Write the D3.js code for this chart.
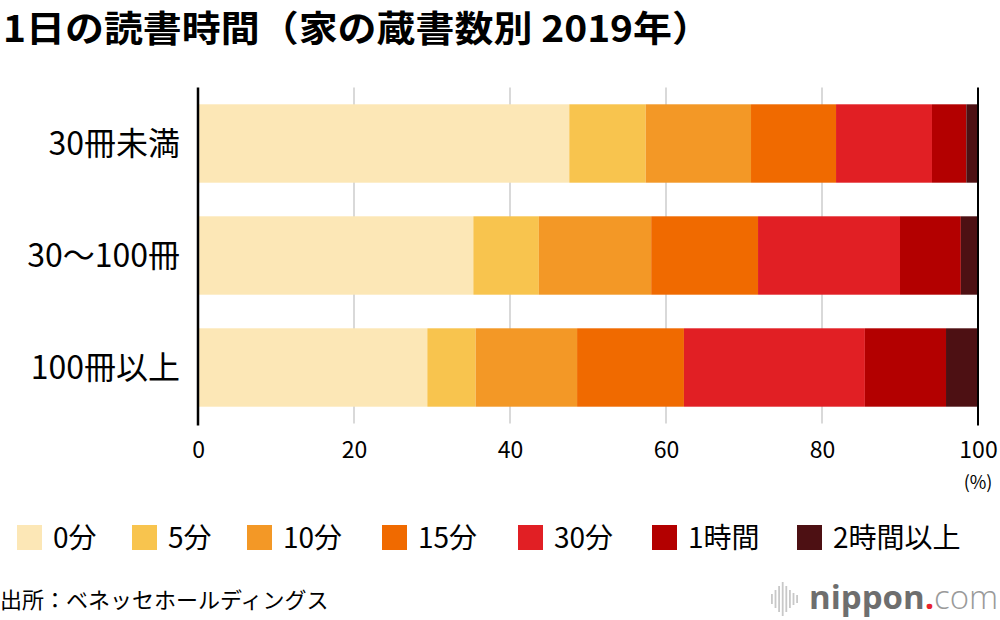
<!DOCTYPE html>
<html lang="ja">
<head>
<meta charset="utf-8">
<title>1日の読書時間（家の蔵書数別 2019年）</title>
<script src="https://d3js.org/d3.v7.min.js"></script>
<style>
  body { margin: 0; background: #fff; }
  svg { display: block; font-family: "Noto Sans CJK JP", "Noto Sans", sans-serif; }
</style>
</head>
<body>
<script>
  // data
  var categories = ["30冊未満", "30～100冊", "100冊以上"];
  var seriesNames = ["0分", "5分", "10分", "15分", "30分", "1時間", "2時間以上"];
  var min0 = [47.6, 35.3, 29.4];
  var min5 = [9.8, 8.4, 6.2];
  var min10 = [13.5, 14.4, 13.0];
  var min15 = [10.9, 13.7, 13.7];
  var min30 = [12.3, 18.2, 23.2];
  var hour1 = [4.4, 7.8, 10.4];
  var hour2plus = [1.5, 2.2, 4.1];
  var xTicks = [0, 20, 40, 60, 80, 100];

  var colors = ["#fce7b6", "#f8c44e", "#f39826", "#f06a00", "#e11f24", "#b30000", "#4d1013"];
  var seriesValues = [min0, min5, min10, min15, min30, hour1, hour2plus];
  // legend item left edges, as laid out in the reference
  var legendX = [17, 132, 247, 382, 518, 652, 797];

  var rows = categories.map(function (c, i) {
    var r = { cat: c };
    seriesNames.forEach(function (s, j) { r[s] = seriesValues[j][i]; });
    return r;
  });

  var width = 1000, height = 620;
  var svg = d3.select("body").append("svg")
    .attr("width", width)
    .attr("height", height);

  var x = d3.scaleLinear().domain([0, 100]).range([198, 978]);
  var y = d3.scaleBand().domain(categories).range([87.5, 423.5])
    .paddingInner(0.3).paddingOuter(0.15);
  var color = d3.scaleOrdinal().domain(seriesNames).range(colors);

  // title
  svg.append("text")
    .attr("x", 3)
    .attr("y", 42)
    .attr("font-size", 36)
    .attr("font-weight", "bold")
    .attr("fill", "#000")
    .attr("textLength", 708)
    .attr("lengthAdjust", "spacingAndGlyphs")
    .text("1日の読書時間（家の蔵書数別 2019年）");

  // grid
  svg.append("g")
    .selectAll("line")
    .data(xTicks.filter(function (t) { return t > 0 && t < 100; }))
    .join("line")
    .attr("x1", function (d) { return x(d); })
    .attr("x2", function (d) { return x(d); })
    .attr("y1", y.range()[0])
    .attr("y2", y.range()[1])
    .attr("stroke", "#cccccc")
    .attr("stroke-width", 1.5);

  // bars
  var stack = d3.stack().keys(seriesNames);
  var layers = stack(rows);

  svg.append("g")
    .selectAll("g")
    .data(layers)
    .join("g")
    .attr("fill", function (d) { return color(d.key); })
    .selectAll("rect")
    .data(function (d) { return d; })
    .join("rect")
    .attr("x", function (d) { return x(d[0]); })
    .attr("width", function (d) { return x(d[1]) - x(d[0]); })
    .attr("y", function (d) { return y(d.data.cat); })
    .attr("height", y.bandwidth());

  // 0 and 100 lines
  svg.append("g")
    .selectAll("line")
    .data([0, 100])
    .join("line")
    .attr("x1", function (d) { return x(d); })
    .attr("x2", function (d) { return x(d); })
    .attr("y1", y.range()[0])
    .attr("y2", y.range()[1] + 2)
    .attr("stroke", "#000")
    .attr("stroke-width", function (d) { return d === 0 ? 2.5 : 2; });

  // x axis labels
  var xAxis = d3.axisBottom(x).tickValues(xTicks).tickSize(0).tickPadding(0);
  var gx = svg.append("g")
    .attr("transform", "translate(0,458)")
    .call(xAxis);
  gx.select(".domain").remove();
  gx.selectAll("text")
    .attr("dy", 0)
    .attr("y", 0)
    .attr("font-size", 23)
    .attr("font-family", "'Noto Sans CJK JP', sans-serif")
    .attr("fill", "#000");

  svg.append("text")
    .attr("x", x(100))
    .attr("y", 489)
    .attr("text-anchor", "middle")
    .attr("font-size", 18)
    .attr("fill", "#000")
    .text("(%)");

  // category labels
  svg.append("g")
    .selectAll("text")
    .data(categories)
    .join("text")
    .attr("x", 180)
    .attr("y", function (d) { return y(d) + y.bandwidth() / 2; })
    .attr("dy", "0.36em")
    .attr("text-anchor", "end")
    .attr("font-size", 32)
    .attr("fill", "#000")
    .text(function (d) { return d; });

  // legend
  var legend = svg.append("g")
    .selectAll("g")
    .data(seriesNames)
    .join("g")
    .attr("transform", function (d, i) { return "translate(" + legendX[i] + ",525)"; });
  legend.append("rect")
    .attr("width", 25)
    .attr("height", 25)
    .attr("fill", function (d) { return color(d); });
  legend.append("text")
    .attr("x", 36)
    .attr("y", 23)
    .attr("font-size", 28)
    .attr("fill", "#000")
    .text(function (d) { return d; });

  // source
  svg.append("text")
    .attr("x", 0)
    .attr("y", 608)
    .attr("font-size", 22)
    .attr("fill", "#000")
    .text("出所：ベネッセホールディングス");

  // nippon.com logo
  var logo = svg.append("g");
  var barHeights = [10, 18, 26, 34, 26, 18, 12, 8];
  logo.selectAll("rect")
    .data(barHeights)
    .join("rect")
    .attr("x", function (d, i) { return 771 + i * 3.6; })
    .attr("y", function (d) { return 599 - d / 2; })
    .attr("width", 1.8)
    .attr("height", function (d) { return d; })
    .attr("fill", "#c8c8c8");
  var lt = logo.append("text")
    .attr("x", 809)
    .attr("y", 609)
    .attr("font-size", 33)
    .attr("font-family", "'Open Sans', sans-serif");
  lt.append("tspan").attr("font-weight", "bold").attr("fill", "#6e6e6e").text("nippon");
  lt.append("tspan").attr("font-weight", "bold").attr("fill", "#e8232d").text(".");
  lt.append("tspan").attr("font-weight", 300).attr("fill", "#9a9a9a").text("com");
</script>
</body>
</html>
